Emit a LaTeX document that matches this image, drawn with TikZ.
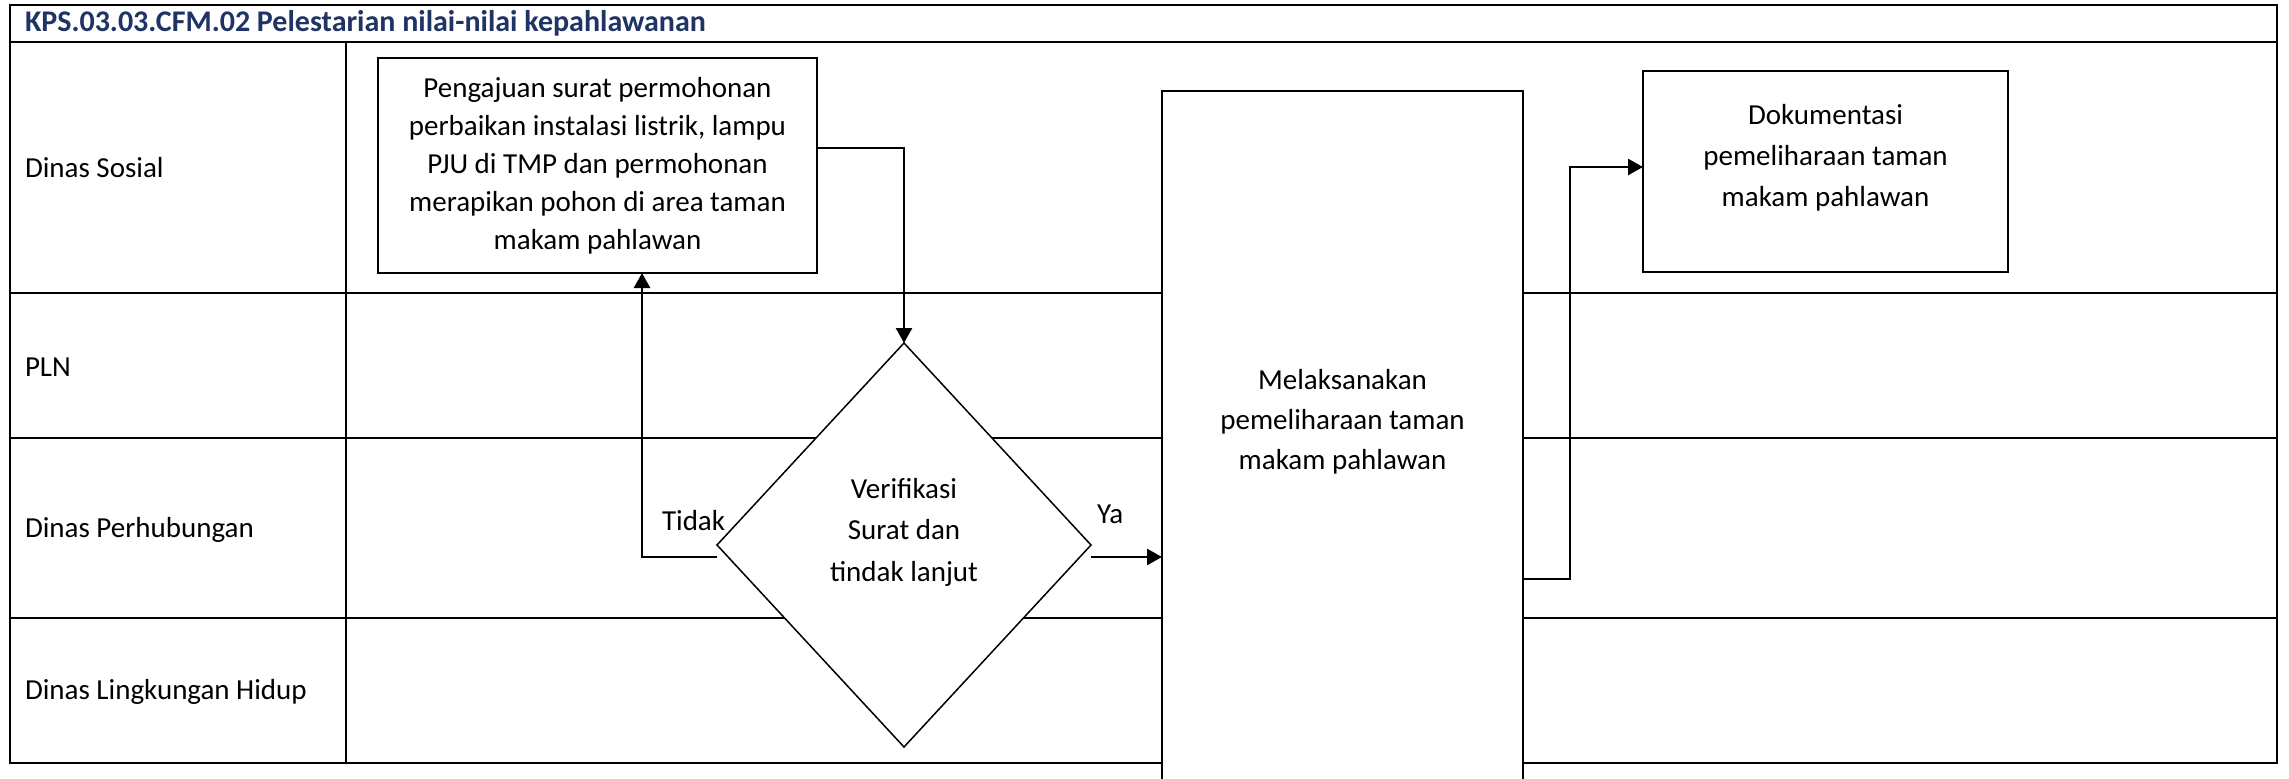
\documentclass[tikz,border=0pt]{standalone}
\usepackage{fontspec}
\setmainfont{Carlito}
\usetikzlibrary{arrows.meta,shapes.geometric}
\definecolor{titleblue}{RGB}{31,52,100}
\begin{document}
\begin{tikzpicture}[x=1pt,y=-1pt,
  every node/.style={inner sep=0pt, outer sep=0pt},
  body/.style={font=\fontsize{29}{40}\selectfont},
  gridline/.style={line width=2.5pt},
  proc/.style={draw, line width=2pt, fill=white, align=center, body},
  tallproc/.style={draw, line width=1.6pt, fill=white},
  decide/.style={draw, diamond, line width=1.5pt, fill=white},
  conn/.style={line width=2.6pt, -{Triangle[length=15pt,width=16pt]}},
  lanelabel/.style={anchor=west, body},
  flowtxt/.style={align=center, body},
  edgelabel/.style={anchor=base west, body}]
\useasboundingbox (0,0) rectangle (2289,779);
\clip (0,0) rectangle (2289,779);
\fill[white] (0,0) rectangle (2289,779);

% table
\draw[gridline] (10,5) rectangle (2277,763);
\draw[gridline] (10,42) -- (2277,42);
\draw[gridline] (346,42) -- (346,763);
\draw[gridline] (10,293) -- (2277,293);
\draw[gridline] (10,438) -- (2277,438);
\draw[gridline] (10,618) -- (2277,618);

\node[anchor=base west, font=\fontsize{30}{40}\selectfont\bfseries, text=titleblue] (title) at (25,31) {KPS.03.03.CFM.02 Pelestarian nilai-nilai kepahlawanan};

\node[lanelabel] (lane1) at (25,168) {Dinas Sosial};
\node[lanelabel] (lane2) at (25,367) {PLN};
\node[lanelabel] (lane3) at (25,530) {Dinas Perhubungan};
\node[lanelabel] (lane4) at (25,692) {Dinas Lingkungan Hidup};

% shapes
\node[proc, font=\fontsize{29}{38}\selectfont, minimum width=439pt, minimum height=215pt] (req) at (597.5,165.5)
  {Pengajuan surat permohonan\\perbaikan instalasi listrik, lampu\\PJU di TMP dan permohonan\\merapikan pohon di area taman\\makam pahlawan};

\node[decide, minimum width=374pt, minimum height=404pt] (dec) at (904,545) {};
\node[flowtxt, font=\fontsize{29}{41.5}\selectfont] (dectext) at (904,532) {Verifikasi\\Surat dan\\tindak lanjut};

\node[tallproc, minimum width=361pt, minimum height=759pt] (exec) at (1342.5,470.5) {};
\node[flowtxt] (exectext) at (1342.5,422) {Melaksanakan\\pemeliharaan taman\\makam pahlawan};

\node[proc, minimum width=365pt, minimum height=201pt] (doc) at (1825.5,171.5) {};
\node[flowtxt, font=\fontsize{29}{41}\selectfont] (doctext) at (1825.5,158) {Dokumentasi\\pemeliharaan taman\\makam pahlawan};

% connectors
\draw[conn] ([yshift=17.5pt]req.east) -| (dec.north);
\draw[conn] ([yshift=-12pt]dec.west) -| ([xshift=44.5pt]req.south);
\draw[conn] ([yshift=-12pt]dec.east) -- ([yshift=-12pt]dec.east -| exec.west);
\draw[conn] ([yshift=-108.5pt]exec.east) -- ++(47,0) |- ([yshift=4.5pt]doc.west);

\node[edgelabel] (tidak) at (662,530) {Tidak};
\node[edgelabel] (ya) at (1097,523) {Ya};
\end{tikzpicture}
\end{document}
